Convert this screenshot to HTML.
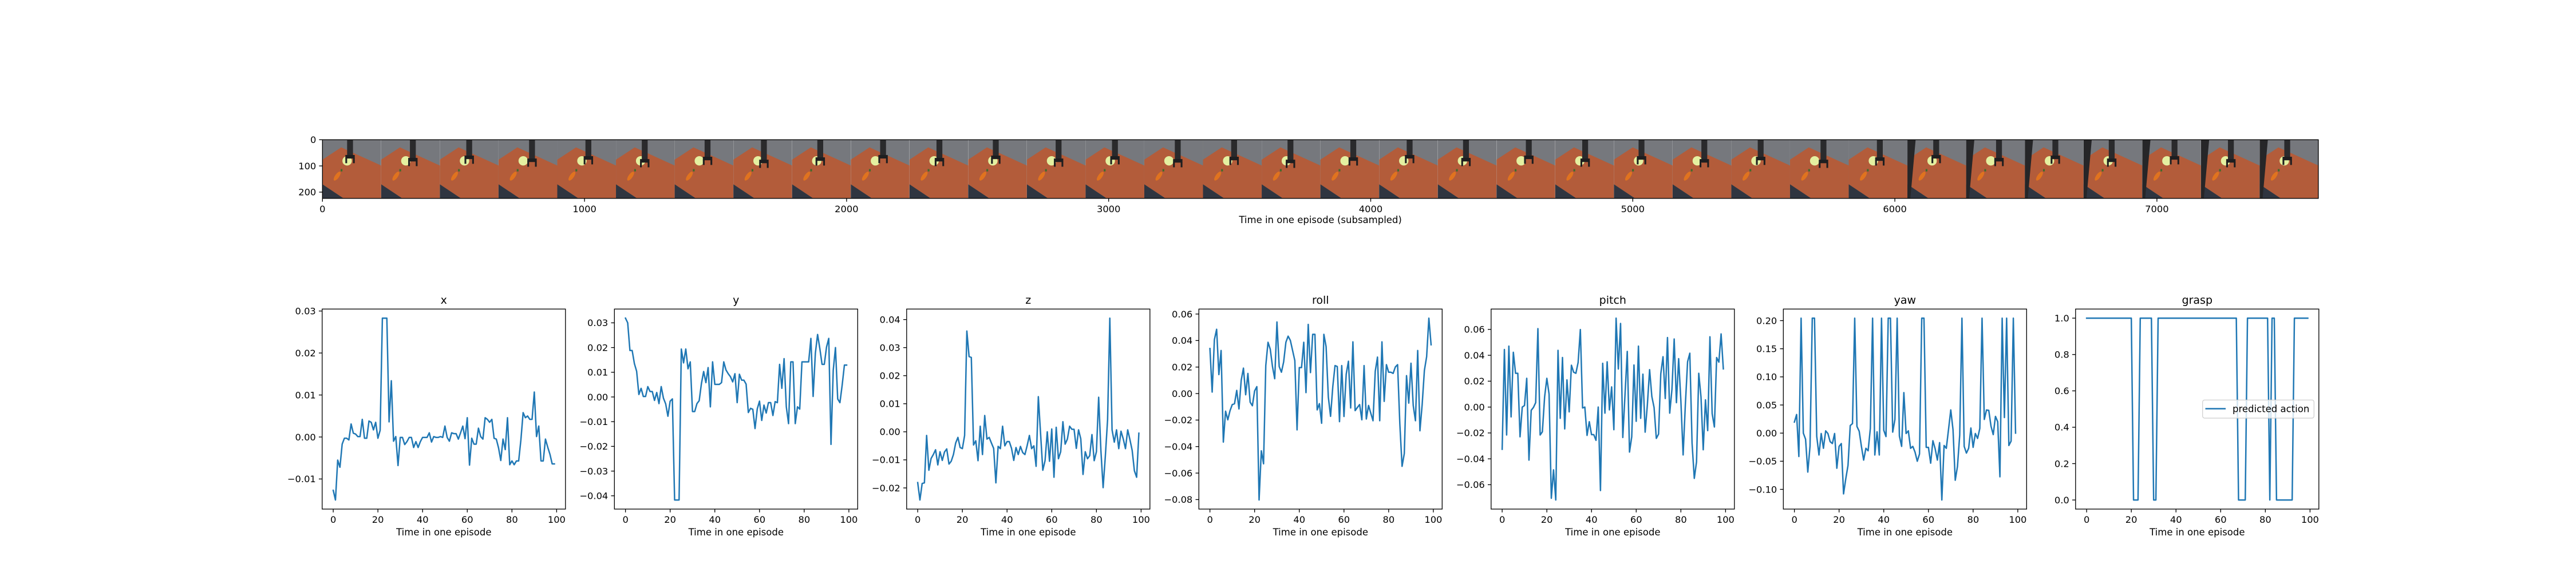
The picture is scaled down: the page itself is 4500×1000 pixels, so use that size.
<!DOCTYPE html>
<html><head><meta charset="utf-8"><style>
html,body{margin:0;padding:0;background:#fff;}
svg{display:block;font-family:"DejaVu Sans","Liberation Sans",sans-serif;}
</style></head><body>
<svg id="fig" width="4500" height="1000" viewBox="0 0 4500 1000" xmlns="http://www.w3.org/2000/svg">
<rect x="0" y="0" width="4500" height="1000" fill="#fff"/>
<g id="strip"></g>
<g id="panels"></g>
</svg>
<script>
const NS="http://www.w3.org/2000/svg";
const fig=document.getElementById('fig');
// ---------- data ----------
const timeSteps=Array.from({length:100},(_,i)=>i);
const panelTitles=["x","y","z","roll","pitch","yaw","grasp"];
const seriesX=[-0.0127,-0.015,-0.0055,-0.0072,-0.0017,-0.0003,-0.0003,-0.0007,0.0031,0.0009,0.0007,0.0001,0.0001,0.0042,-0.0003,-0.0003,0.0038,0.0035,0.0017,0.0035,-0.0003,0.0016,0.0283,0.0283,0.0283,0.0036,0.0134,-0.001,0.0001,-0.0068,-0.0001,-0.0001,-0.0018,-0.0011,-0.0001,-0.0001,-0.0025,-0.0011,-0.0025,-0.0011,-0.0001,-0.0001,-0.0001,0.001,-0.0012,0.0001,-0.0001,-0.0001,0.0001,-0.0001,0.0026,-0.0001,-0.001,0.001,0.0008,0.0008,-0.0005,0.001,0.0026,-0.0004,0.0046,-0.0067,-0.0003,-0.0017,-0.0017,0.0021,0.0001,-0.0005,0.0046,0.0042,0.0035,0.0042,-0.0003,-0.0005,-0.0026,-0.0056,-0.0005,-0.003,0.0046,-0.0066,-0.0057,-0.0066,-0.0057,-0.0057,-0.0007,0.0058,0.0046,0.005,0.0042,0.0042,0.0107,0.0001,0.0026,-0.0057,-0.0057,-0.0005,-0.0024,-0.0041,-0.0064,-0.0064];
const seriesY=[0.0319,0.03,0.0188,0.0188,0.0135,0.0104,0.001,0.0035,0.0002,0.0002,0.0042,0.0022,0.0022,-0.0014,0.0018,-0.0027,0.0042,-0.0005,-0.0028,-0.0078,-0.0017,-0.0008,-0.0417,-0.0417,-0.0417,0.0194,0.0138,0.0194,0.0114,0.0142,-0.0059,-0.0059,-0.0027,-0.0015,0.0054,0.0103,0.0058,0.0119,-0.004,0.0142,0.0051,0.0051,0.0051,0.0058,0.0142,0.0109,0.0094,0.0082,0.0061,0.0094,-0.0023,0.0092,0.0068,0.0068,0.0052,-0.0063,-0.0046,-0.005,-0.0128,-0.0048,-0.0017,-0.0095,-0.0033,-0.0065,-0.0023,-0.0023,-0.0075,-0.0019,-0.0023,0.0132,0.0035,0.0155,-0.004,-0.0108,0.0142,0.0142,-0.0108,-0.004,-0.0049,0.0142,0.0142,0.0142,0.0142,0.0237,0.0002,0.0177,0.0253,0.0196,0.0132,0.0132,0.0202,0.0237,-0.0192,0.0108,0.02,-0.0008,-0.0023,0.0048,0.0129,0.0129];
const seriesZ=[-0.0181,-0.0243,-0.0184,-0.0182,-0.0013,-0.0137,-0.0095,-0.0081,-0.0064,-0.0118,-0.0071,-0.0102,-0.0072,-0.0061,-0.0115,-0.0105,-0.0081,-0.004,-0.002,-0.0056,-0.006,-0.0013,0.0359,0.0268,0.0265,-0.0047,-0.0032,-0.0103,0.002,-0.0081,0.0058,-0.0026,-0.002,-0.004,-0.0059,-0.0182,-0.0052,-0.006,0.002,-0.005,-0.0035,-0.0035,-0.0059,-0.0102,-0.0056,-0.0081,-0.0052,-0.0074,-0.0081,-0.0049,-0.0013,-0.006,-0.005,-0.0123,0.0125,-0.0006,-0.0137,-0.0103,0.0,-0.0105,0.001,-0.0162,0.0016,-0.0096,-0.0071,0.0036,-0.0044,-0.0026,0.002,0.0009,0.0009,-0.0059,0.0007,-0.0025,-0.0152,-0.0071,-0.0096,-0.0085,-0.001,-0.0103,-0.0071,0.0123,-0.0066,-0.0199,-0.0086,0.0043,0.0405,0.0007,-0.0037,0.0007,-0.006,0.0002,-0.0025,-0.006,0.0007,-0.0028,-0.0066,-0.0139,-0.0162,-0.0005];
const seriesRoll=[0.034,0.0011,0.0407,0.0485,0.0143,0.0325,-0.0366,-0.0133,-0.0198,-0.0129,-0.0083,-0.0077,0.0024,-0.0116,0.01,0.0192,-0.0009,0.0152,-0.0065,-0.0092,0.002,0.0052,-0.0803,-0.0432,-0.053,0.0211,0.0387,0.0335,0.0204,0.0112,0.054,0.0204,0.0161,0.0239,0.0387,0.0433,0.0401,0.0325,0.0249,-0.0274,0.0196,0.0196,0.0387,0.0007,0.0522,0.0158,0.0447,0.0447,-0.0123,-0.0076,-0.0224,0.0447,0.0354,-0.0026,-0.0172,0.0053,0.0211,0.0204,-0.0212,0.0211,-0.0173,0.0146,0.0244,-0.0109,0.039,-0.0129,-0.0105,-0.0083,-0.0198,0.0211,-0.0192,-0.009,-0.0148,-0.0205,0.0168,0.0275,-0.0205,0.039,-0.0059,0.0218,0.0161,0.0161,0.0152,0.0201,0.0218,-0.0227,-0.0549,-0.0453,0.0135,-0.0072,0.0229,-0.009,-0.0205,0.0325,-0.0281,-0.0083,0.0175,0.0278,0.0569,0.0368];
const seriesPitch=[-0.0326,0.0445,-0.0216,0.0471,-0.0076,0.0423,0.0261,0.0261,-0.023,0.0,0.0012,0.0222,-0.041,-0.0025,-0.0003,0.0034,0.0606,-0.0216,-0.0191,0.0078,0.0222,0.01,-0.0705,-0.0485,-0.0718,0.0438,-0.0087,0.0383,-0.0169,0.021,-0.0037,0.0323,0.0269,0.0261,0.0345,0.0599,-0.0007,0.0,-0.0219,-0.0113,-0.0213,-0.0213,-0.0257,0.0,-0.0645,0.0338,-0.0047,0.035,-0.0022,0.0156,-0.0175,0.0687,0.0294,0.0646,-0.0235,0.01,0.043,-0.0348,-0.023,0.0325,-0.011,0.0471,-0.0087,0.0254,-0.0194,0.0019,0.0289,0.0081,-0.0003,-0.0242,-0.0209,0.0257,0.0389,0.0066,0.0537,-0.0047,0.0137,0.0526,0.0034,0.0374,0.0046,-0.037,0.0019,0.035,0.0416,-0.0278,-0.0551,-0.0424,0.0261,0.0078,-0.033,0.0056,-0.0182,0.0543,-0.0051,-0.0154,0.0383,0.0347,0.0565,0.0295];
const seriesYaw=[0.0196,0.0331,-0.0416,0.2044,0.0,-0.0108,-0.0693,-0.023,0.2044,0.2044,-0.0057,-0.0389,-0.0007,-0.027,0.004,-0.0007,-0.0152,-0.0186,-0.0007,-0.0625,-0.0236,-0.0186,-0.1081,-0.0811,-0.0574,0.0135,0.0169,0.2044,0.0118,0.0034,-0.0236,-0.048,-0.027,-0.0314,0.0084,0.2044,-0.0389,0.0024,-0.0389,0.2044,0.0051,-0.0061,0.2044,0.2044,0.0017,0.0243,0.2044,-0.0051,-0.0236,0.072,-0.0007,0.004,-0.027,-0.0236,-0.0338,-0.05,-0.0372,0.2044,0.2044,-0.0253,-0.0253,-0.0534,-0.0135,-0.0277,-0.048,-0.0169,-0.1189,-0.022,-0.027,0.0068,0.0412,0.0061,-0.0838,-0.0591,-0.0034,0.2044,-0.0236,-0.0355,-0.027,0.0091,-0.0253,-0.0007,-0.0095,0.0084,0.2044,0.0243,0.0412,0.0405,0.0125,-0.0027,0.0297,0.0203,-0.0777,0.2044,0.0277,0.2044,-0.022,-0.0142,0.2044,0.0];
const seriesGrasp=[1,1,1,1,1,1,1,1,1,1,1,1,1,1,1,1,1,1,1,1,1,0,0,0,1,1,1,1,1,1,0,0,1,1,1,1,1,1,1,1,1,1,1,1,1,1,1,1,1,1,1,1,1,1,1,1,1,1,1,1,1,1,1,1,1,1,1,1,0,0,0,0,1,1,1,1,1,1,1,1,1,1,0,1,1,0,0,0,0,0,0,0,0,1,1,1,1,1,1,1];
const xTickValues=[0,20,40,60,80,100];
const yTickX=[0.03,0.02,0.01,0.00,-0.01];
const yTickY=[0.03,0.02,0.01,0.00,-0.01,-0.02,-0.03,-0.04];
const yTickZ=[0.04,0.03,0.02,0.01,0.00,-0.01,-0.02];
const yTickRoll=[0.06,0.04,0.02,0.00,-0.02,-0.04,-0.06,-0.08];
const yTickPitch=[0.06,0.04,0.02,0.00,-0.02,-0.04,-0.06];
const yTickYaw=[0.20,0.15,0.10,0.05,0.00,-0.05,-0.10];
const yTickGrasp=[0.0,0.2,0.4,0.6,0.8,1.0];
const yTickDecimals=[2,2,2,2,2,2,1];
const stripXTicks=[0,1000,2000,3000,4000,5000,6000,7000];
const stripYTicks=[0,100,200];
const stripFrameCount=34;
const stripFrameSize=224;

const FS=16.3, FL=16.5;
function el(tag,attrs,parent){const e=document.createElementNS(NS,tag);for(const k in attrs)e.setAttribute(k,attrs[k]);(parent||fig).appendChild(e);return e;}
function fmt(v,d){const s=Math.abs(v).toFixed(d);return (v< -1e-9?"\u2212":"")+s;}

// ---------- image strip ----------
const strip=document.getElementById('strip');
const sL=563.3,sT=244.3,sScale=0.4578;
const sW=stripFrameCount*stripFrameSize*sScale, sH=stripFrameSize*sScale;
const sx=v=>sL+v*sScale, sy=v=>sT+v*sScale;
const defs=el('defs',{},fig);
const cp=el('clipPath',{id:'frameclip'},defs);el('rect',{x:0,y:0,width:100,height:100},cp);
for(let f=0;f<stripFrameCount;f++){
  const g=el('g',{transform:`translate(${sx(f*stripFrameSize)},${sT}) scale(${stripFrameSize*sScale/100},${sH/100})`,'clip-path':'url(#frameclip)'},strip);
  
  
  el('rect',{x:0,y:0,width:100,height:100,fill:'#76787d'},g);
  el('polygon',{points:'0,34 32,13 100,44 100,100 36,100 0,76',fill:'#b35c3a'},g);
  el('polygon',{points:'0,76 36,100 0,100',fill:'#2f3540'},g);
  el('circle',{cx:42,cy:36,r:8,fill:'#e4f0a0'},g);
  el('ellipse',{cx:25,cy:62,rx:3.5,ry:9,transform:'rotate(35 25 62)',fill:'#e0731f'},g);
  el('rect',{x:31,y:50,width:3,height:4,fill:'#3f6b2a'},g);
  const ax=45+((f*7)%11)-3, ay=28+((f*5)%9);
  el('rect',{x:ax,y:0,width:10,height:ay,fill:'#2a2a2c'},g);
  el('rect',{x:ax-3,y:ay-2,width:16,height:6,fill:'#1e1e20'},g);
  el('rect',{x:ax-3,y:ay+3,width:3,height:9,fill:'#1e1e20'},g);
  el('rect',{x:ax+10,y:ay+3,width:3,height:9,fill:'#1e1e20'},g);
  if(f>=27){el('polygon',{points:'0,0 14,0 5,100 0,100',fill:'#262628'},g);}
}
el('rect',{x:sL,y:sT,width:sW,height:sH,fill:'none',stroke:'#000','stroke-width':1.33},strip);
stripXTicks.forEach(v=>{
  el('line',{x1:sx(v),x2:sx(v),y1:sT+sH,y2:sT+sH+5.8,stroke:'#000','stroke-width':1.33},strip);
  const tx=el('text',{x:sx(v),y:sT+sH+24,'font-size':FS,'text-anchor':'middle'},strip);tx.textContent=String(v);
  
  
});
stripYTicks.forEach(v=>{
  el('line',{x1:sL-5.8,x2:sL,y1:sy(v),y2:sy(v),stroke:'#000','stroke-width':1.33},strip);
  const tx=el('text',{x:sL-11,y:sy(v)+5.8,'font-size':FS,'text-anchor':'end'},strip);tx.textContent=String(v);
  
  
});
const sxl=el('text',{x:sL+sW/2,y:390,'font-size':FL,'text-anchor':'middle'},strip);
sxl.textContent='Time in one episode (subsampled)';



// ---------- panels ----------
const panelsG=document.getElementById('panels');
const allSeries=[seriesX,seriesY,seriesZ,seriesRoll,seriesPitch,seriesYaw,seriesGrasp];
const allTicks=[yTickX,yTickY,yTickZ,yTickRoll,yTickPitch,yTickYaw,yTickGrasp];
const pT=540.3,pB=890,pW=425;
allSeries.forEach((data,i)=>{
  const L=562.8+510.5*i, R=L+pW;
  const g=el('g',{},panelsG);
  
  
  const n=timeSteps.length-1;
  const xm=n*0.05, x0=-xm, x1=n+xm;
  const mn=Math.min(...data), mx=Math.max(...data), ym=(mx-mn)*0.05;
  const y0=mn-ym, y1=mx+ym;
  const X=v=>L+(v-x0)/(x1-x0)*pW;
  const Y=v=>pB-(v-y0)/(y1-y0)*(pB-pT);
  let d='';
  timeSteps.forEach((t,k)=>{d+=(k?'L':'M')+X(t).toFixed(2)+','+Y(data[k]).toFixed(2);});
  const line=el('path',{d:d,fill:'none',stroke:'#1f77b4','stroke-width':2.5,'stroke-linejoin':'round','stroke-linecap':'square'},g);
  
  
  const fr=el('rect',{x:L,y:pT,width:pW,height:pB-pT,fill:'none',stroke:'#000','stroke-width':1.33},g);
  
  
  xTickValues.forEach(v=>{
    el('line',{x1:X(v),x2:X(v),y1:pB,y2:pB+5.8,stroke:'#000','stroke-width':1.33},g);
    const tx=el('text',{x:X(v),y:pB+24,'font-size':FS,'text-anchor':'middle'},g);tx.textContent=String(v);
    
    
  });
  allTicks[i].forEach(v=>{
    el('line',{x1:L-5.8,x2:L,y1:Y(v),y2:Y(v),stroke:'#000','stroke-width':1.33},g);
    const tx=el('text',{x:L-11,y:Y(v)+5.8,'font-size':FS,'text-anchor':'end'},g);tx.textContent=fmt(v,yTickDecimals[i]);
    
    
  });
  const xl=el('text',{x:(L+R)/2,y:936,'font-size':FL,'text-anchor':'middle'},g);xl.textContent='Time in one episode';
  
  
  const tt=el('text',{x:(L+R)/2,y:531,'font-size':19,'text-anchor':'middle'},g);tt.textContent=panelTitles[i];
  
  
  if(i===6){
    const lg=el('g',{},g);
    
    
    el('rect',{x:3847.7,y:699.3,width:194.6,height:31.7,rx:3.5,fill:'#fff','fill-opacity':0.8,stroke:'#cccccc','stroke-width':1.2},lg);
    el('line',{x1:3852.5,x2:3888,y1:714.5,y2:714.5,stroke:'#1f77b4','stroke-width':2.5},lg);
    const lt=el('text',{x:3900,y:720.5,'font-size':FL},lg);lt.textContent='predicted action';
    
    
  }
});
</script>
</body></html>
